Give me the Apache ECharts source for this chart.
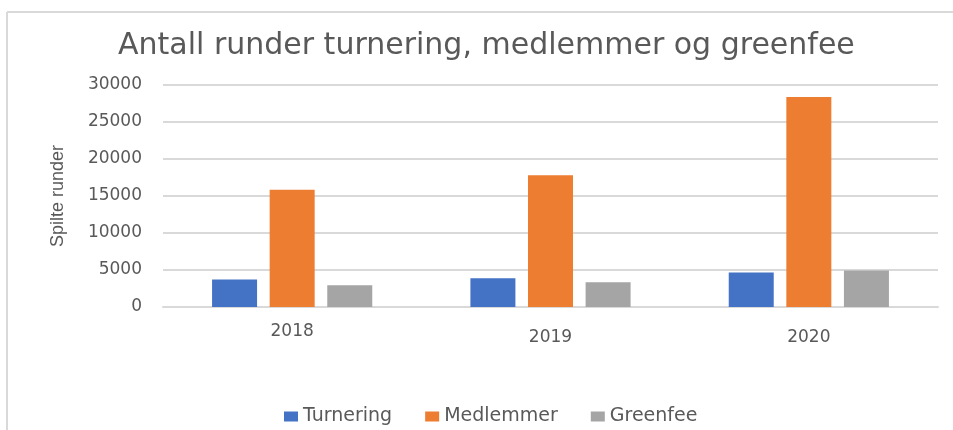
<!DOCTYPE html>
<html>
<head>
<meta charset="utf-8">
<title>Antall runder</title>
<script src="https://cdn.jsdelivr.net/npm/echarts@6/dist/echarts.min.js"></script>
<style>
  html, body { margin: 0; padding: 0; background: #fff; }
  #chart { width: 953px; height: 430px; }
</style>
</head>
<body>
<div id="chart"></div>
<script>
// kategorier og verdier lest av bildet
const years = ["2018", "2019", "2020"];
const turnering = [3700, 3900, 4650];
const medlemmer = [15850, 17800, 28380];
const greenfee = [2930, 3350, 4920];
const yTicks = [0, 5000, 10000, 15000, 20000, 25000, 30000];

const textColor = "#595959";
const chart = echarts.init(document.getElementById("chart"));

chart.setOption({
  animation: false,
  title: {
    text: "Antall runder turnering, medlemmer og greenfee",
    left: 113,
    top: 26,
    textStyle: {
      fontFamily: "DejaVu Sans",
      fontWeight: "normal",
      fontSize: 30,
      color: textColor,
    },
  },
  // ramme: bare topp og venstre synlig
  graphic: [
    { type: "line", shape: { x1: 7, y1: 12, x2: 953, y2: 12 }, style: { stroke: "#d9d9d9", lineWidth: 2 } },
    { type: "line", shape: { x1: 7, y1: 12, x2: 7, y2: 430 }, style: { stroke: "#d9d9d9", lineWidth: 2 } },
  ],
  legend: {
    left: 279,
    top: 402,
    itemWidth: 14,
    itemHeight: 10,
    itemGap: 33,
    icon: "rect",
    textStyle: { fontFamily: "DejaVu Sans", fontSize: 19, color: textColor },
    data: ["Turnering", "Medlemmer", "Greenfee"],
  },
  grid: { left: 163, right: 15, top: 85, bottom: 123 },
  xAxis: {
    type: "category",
    data: years,
    axisTick: { show: false },
    axisLine: { lineStyle: { color: "#d9d9d9", width: 2 } },
    axisLabel: {
      margin: 16,
      formatter: function (v) {
        return v === "2018" ? "{a|" + v + "}" : "{b|" + v + "}";
      },
      rich: {
        a: { fontFamily: "DejaVu Sans", fontSize: 17, color: textColor },
        b: { fontFamily: "DejaVu Sans", fontSize: 17, color: textColor, padding: [6, 0, 0, 0] },
      },
    },
  },
  yAxis: {
    type: "value",
    min: yTicks[0],
    max: yTicks[yTicks.length - 1],
    interval: yTicks[1] - yTicks[0],
    name: "Spilte runder",
    nameLocation: "middle",
    nameGap: 96,
    nameTextStyle: { fontFamily: "Liberation Sans", fontSize: 18, color: textColor },
    axisLine: { show: false },
    axisTick: { show: false },
    axisLabel: {
      fontFamily: "DejaVu Sans",
      fontSize: 17,
      color: textColor,
      margin: 21,
      formatter: function (v) { return String(v); },
    },
    splitLine: { lineStyle: { color: "#d9d9d9", width: 2 } },
  },
  series: [
    { name: "Turnering", type: "bar", data: turnering, barWidth: 45, barGap: "28%", itemStyle: { color: "#4472c4" } },
    { name: "Medlemmer", type: "bar", data: medlemmer, barWidth: 45, barGap: "28%", itemStyle: { color: "#ed7d31" } },
    { name: "Greenfee", type: "bar", data: greenfee, barWidth: 45, barGap: "28%", itemStyle: { color: "#a5a5a5" } },
  ],
});

window.onresize = function () {
  chart.resize();
};
</script>
</body>
</html>
